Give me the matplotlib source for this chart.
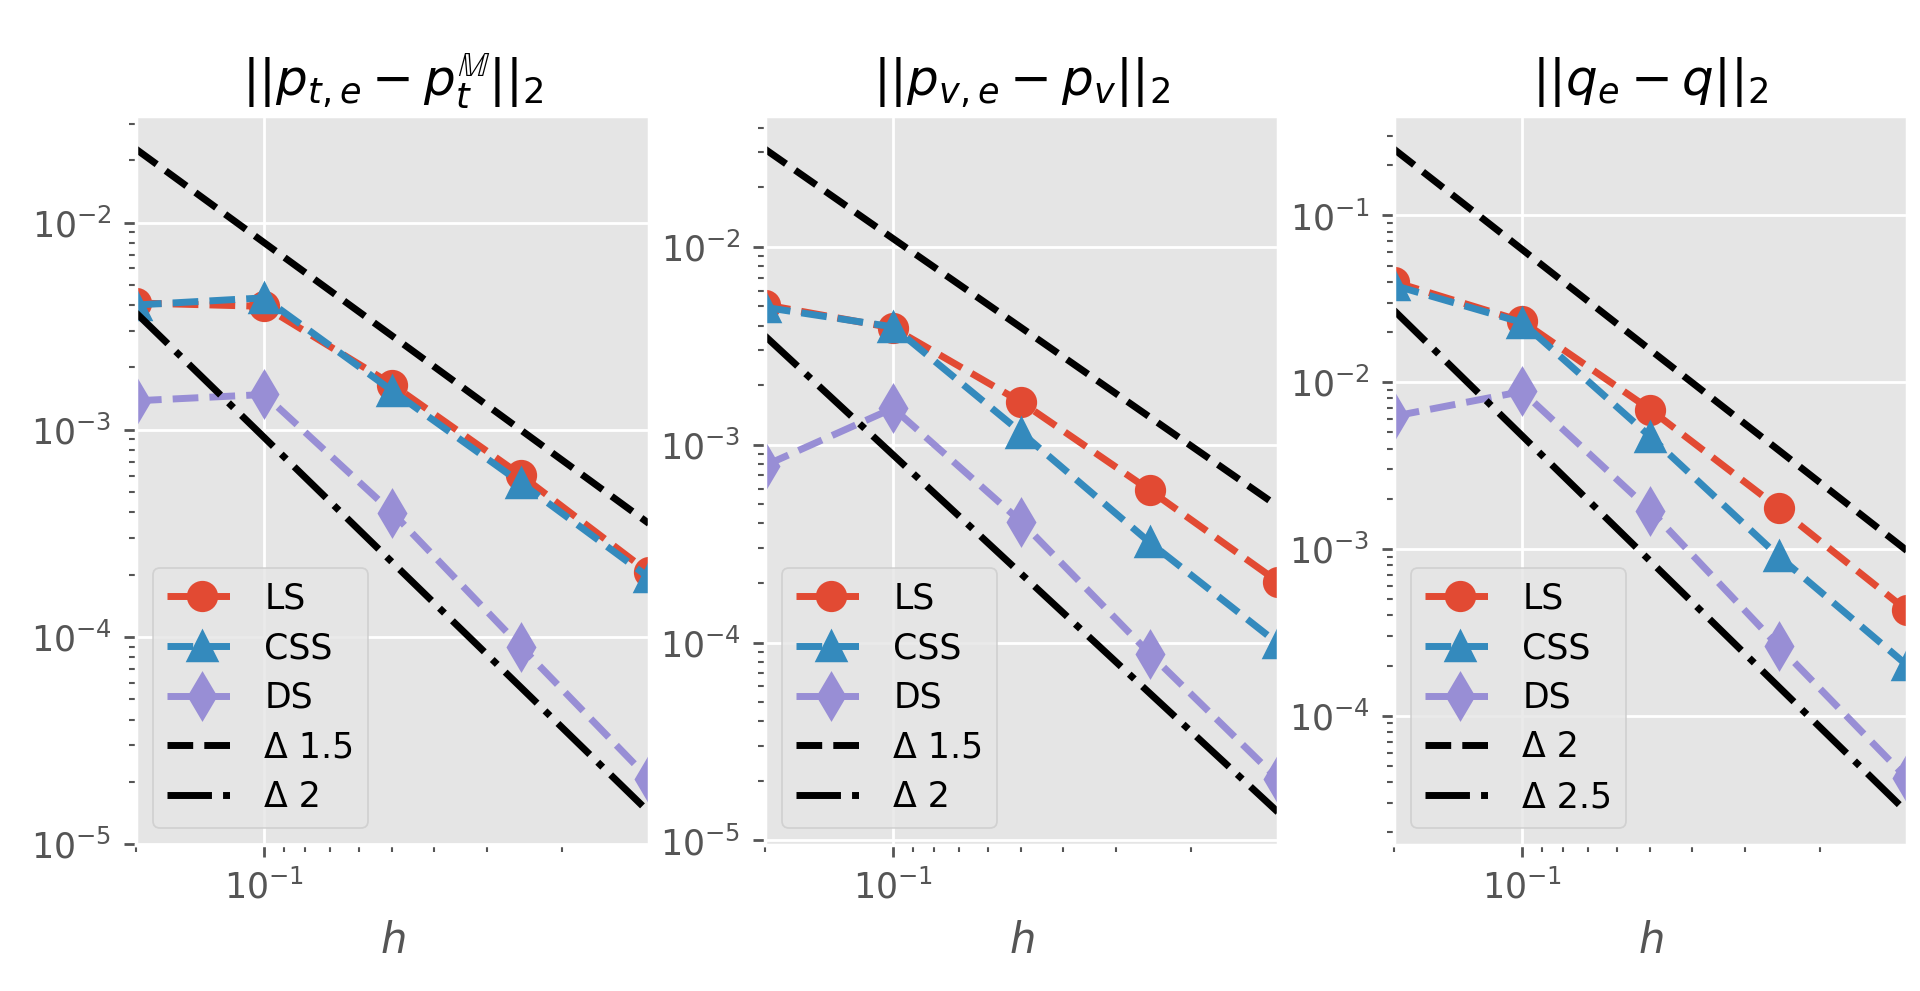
import matplotlib
matplotlib.use("Agg")
import matplotlib.pyplot as plt

plt.style.use("ggplot")

h = [0.2, 0.1, 0.05, 0.025, 0.0125]

titles = [r"$||p_{t,e} - p_t^{\mathbb{M}}||_2$",
          r"$||p_{v,e} - p_v||_2$",
          r"$||q_e - q||_2$"]

# panel 1
ls_1 = [4.09e-3, 3.94e-3, 1.65e-3, 6.05e-4, 2.05e-4]
css_1 = [4.0e-3, 4.33e-3, 1.54e-3, 5.55e-4, 1.94e-4]
ds_1 = [1.38e-3, 1.48e-3, 3.98e-4, 9.0e-5, 2.07e-5]
ref_a_1 = [2.26e-2, 7.99e-3, 2.83e-3, 9.99e-4, 3.53e-4]
ref_b_1 = [3.67e-3, 9.18e-4, 2.29e-4, 5.73e-5, 1.43e-5]
lab_a_1, lab_b_1 = "Δ 1.5", "Δ 2"

# panel 2
ls_2 = [5.1e-3, 3.89e-3, 1.64e-3, 5.89e-4, 2.03e-4]
css_2 = [4.95e-3, 3.94e-3, 1.15e-3, 3.21e-4, 9.9e-5]
ds_2 = [7.85e-4, 1.53e-3, 4.07e-4, 8.8e-5, 2.04e-5]
ref_a_2 = [3.12e-2, 1.10e-2, 3.90e-3, 1.38e-3, 4.88e-4]
ref_b_2 = [3.55e-3, 8.88e-4, 2.22e-4, 5.55e-5, 1.39e-5]
lab_a_2, lab_b_2 = "Δ 1.5", "Δ 2"

# panel 3
ls_3 = [4.0e-2, 2.32e-2, 6.84e-3, 1.76e-3, 4.28e-4]
css_3 = [3.81e-2, 2.28e-2, 4.71e-3, 9.04e-4, 2.01e-4]
ds_3 = [6.25e-3, 8.8e-3, 1.70e-3, 2.61e-4, 4.22e-5]
ref_a_3 = [0.25, 6.25e-2, 1.56e-2, 3.91e-3, 9.77e-4]
ref_b_3 = [2.7e-2, 4.77e-3, 8.44e-4, 1.49e-4, 2.64e-5]
lab_a_3, lab_b_3 = "Δ 2", "Δ 2.5"

panels = [
    (ls_1, css_1, ds_1, ref_a_1, ref_b_1, lab_a_1, lab_b_1),
    (ls_2, css_2, ds_2, ref_a_2, ref_b_2, lab_a_2, lab_b_2),
    (ls_3, css_3, ds_3, ref_a_3, ref_b_3, lab_a_3, lab_b_3),
]

fig, axes = plt.subplots(1, 3, figsize=(7.68, 3.964), dpi=250)
fig.subplots_adjust(left=0.0708, right=0.9932, top=0.883, bottom=0.147, wspace=0.226)

for ax, title, (ls, css, ds, ra, rb, la, lb) in zip(axes, titles, panels):
    ax.loglog(h, ls, "--o", color="#E24A33", ms=8, lw=2, label="LS")
    ax.loglog(h, css, "--^", color="#348ABD", ms=8, lw=2, label="CSS")
    ax.loglog(h, ds, "--d", color="#988ED5", ms=9, lw=2, label="DS")
    ax.loglog(h, ra, "--", color="black", lw=2, label=la)
    ax.loglog(h, rb, "-.", color="black", lw=2, label=lb)
    ax.set_xlim(h[0], h[-1])
    ax.set_title(title)
    ax.set_xlabel("$h$")
    ax.legend(loc="lower left", labelspacing=0.45)

fig.savefig("out.png", dpi=250)
